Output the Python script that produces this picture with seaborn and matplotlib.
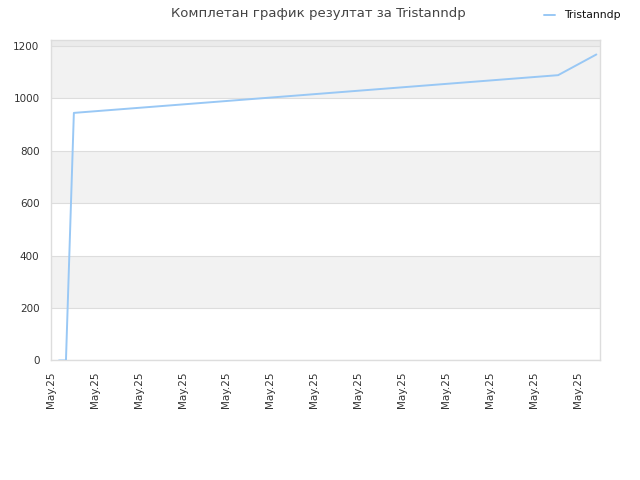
import matplotlib
matplotlib.use('Agg')
import matplotlib.pyplot as plt
import seaborn as sns
import pandas as pd

# données
jours = [0.19, 0.35, 0.53, 11.54, 12.41]
scores = [0, 0, 945, 1089, 1168]
etiquettes_x = ['May.25'] * 13
joueur = 'Tristanndp'

df = pd.DataFrame({'jour': jours, 'score': scores, 'joueur': joueur})

sns.set_style('white')
plt.rcParams['font.family'] = ['DejaVu Sans']

fig = plt.figure(figsize=(6.4, 4.8), dpi=100)
ax = fig.add_axes([0.079, 0.249, 0.859, 0.667])

# bandes grises alternées
for bas in [200, 600, 1000]:
    ax.axhspan(bas, bas + 200, color='#f2f2f2', zorder=0, lw=0)
ax.axhspan(1200, 1300, color='#ebebeb', zorder=0, lw=0)
for y in range(0, 1400, 200):
    ax.axhline(y, color='#dddddd', lw=0.8, zorder=1)

sns.lineplot(data=df, x='jour', y='score', hue='joueur', palette=['#99c8f5'],
             lw=1.4, ax=ax, zorder=3)

ax.set_xlim(0, 12.5)
ax.set_ylim(0, 1222)
ax.set_xticks(range(13))
ax.set_xticklabels(etiquettes_x, rotation=90)
ax.set_yticks(range(0, 1400, 200))
ax.tick_params(axis='both', length=0, labelsize=7.5, colors='#333333', pad=8)
ax.set_xlabel('')
ax.set_ylabel('')
for s in ax.spines.values():
    s.set_color('#dddddd')
    s.set_linewidth(1)

fig.suptitle('Комплетан график резултат за Tristanndp', x=0.497, y=0.985,
             fontsize=9.5, color='#444444')
leg = ax.legend(loc='center right', bbox_to_anchor=(1.045, 1.078), frameon=False,
                fontsize=7.8, handlelength=1.1, handletextpad=0.8, borderaxespad=0,
                labelcolor='#111111')
leg.set_title(None)

plt.savefig('out.png', dpi=100)
